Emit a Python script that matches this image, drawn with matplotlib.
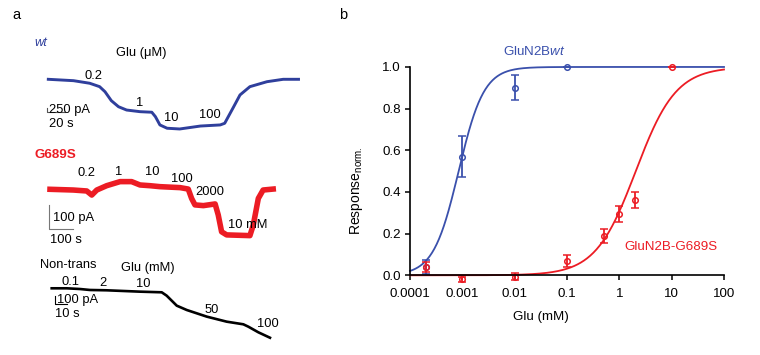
import numpy as np
import matplotlib
matplotlib.use("Agg")
import matplotlib.pyplot as plt

plt.rcParams["font.family"] = ["Liberation Sans", "DejaVu Sans"]
plt.rcParams["mathtext.fontset"] = "custom"
plt.rcParams["mathtext.rm"] = "Liberation Sans"
plt.rcParams["mathtext.it"] = "Liberation Sans:italic"

BLUE = "#2f3f9c"
BLUE_FIT = "#3a50ac"
RED = "#ec1c24"
W, H = 760, 355

# ---- panel a: current traces (time in s, current in pA) ----
wt_t = [0, 28, 46, 57, 63, 70, 78, 87, 102, 115, 119, 124, 132, 146, 169, 191,
        196, 206, 213, 224, 243, 261, 278]
wt_i = [0, -75, -215, -400, -675, -1160, -1490, -1670, -1760, -1790, -2030, -2480,
        -2660, -2700, -2540, -2480, -2390, -1490, -850, -400, -130, 0, 0]

mut_t = [0, 97, 153, 174, 195, 236, 292, 340, 375, 417, 458, 542, 576, 590, 604,
         639, 688, 701, 715, 736, 833, 847, 868, 888, 930]
mut_i = [0, -3, -7, -24, -3, 15, 32, 32, 18, 15, 11, 7, 1, -38, -65, -68, -61,
         -107, -177, -190, -193, -149, -38, -3, 1]

nt_t = [0, 12.5, 23.6, 31.9, 45.8, 73.6, 91.7, 95.8, 104.2, 112.5, 129.2, 145.8,
        159.7, 163.9, 172.2, 181.9]
nt_i = [0, 0, -9, -21, -25, -42, -50, -92, -217, -271, -354, -417, -450, -480,
        -550, -618]

# ---- panel b: dose-response ----
conc_wt = [0.0002, 0.001, 0.01, 0.1]
resp_wt = [0.04, 0.57, 0.90, 1.0]
err_wt = [0.033, 0.10, 0.06, 0.0]
conc_mut = [0.0002, 0.001, 0.01, 0.1, 0.5, 1, 2, 10]
resp_mut = [0.04, -0.02, -0.006, 0.07, 0.19, 0.294, 0.36, 1.0]
err_mut = [0.025, 0.01, 0.016, 0.028, 0.034, 0.04, 0.038, 0.0]
ec50_wt, nh_wt = 0.00085, 1.8
ec50_mut, nh_mut = 2.06, 1.13

fig = plt.figure(figsize=(W / 100, H / 100), dpi=100)


def trace_axes(box, origin, px_per_s, px_per_pA):
    x0, y0, x1, y1 = box
    ox, oy = origin
    ax = fig.add_axes([x0 / W, 1 - y1 / H, (x1 - x0) / W, (y1 - y0) / H])
    ax.set_xlim((x0 - ox) / px_per_s, (x1 - ox) / px_per_s)
    ax.set_ylim((oy - y1) / px_per_pA, (oy - y0) / px_per_pA)
    ax.axis("off")
    ax.patch.set_alpha(0)
    return ax


fs = 9.3
# wt trace
a1 = trace_axes((0, 30, 330, 140), (48.3, 79.3), 0.9, 0.0184)
a1.plot(wt_t, wt_i, color=BLUE, lw=2.1, solid_joinstyle="round", clip_on=False)
a1.plot([-1.1, -1.1, 18.9], [-1543, -1793, -1793], color="#555555", lw=0.8)
a1.text(-8.7, 1973, "wt", color=BLUE, style="italic", fontsize=fs, ha="center", va="center")
a1.text(103, 1429, "Glu (\u03bcM)", fontsize=fs, ha="center", va="center")
for s, t, i in [("0.2", 50, 179), ("1", 101, -1304), ("10", 137, -2120), ("100", 180, -1940)]:
    a1.text(t, i, s, fontsize=fs, ha="center", va="center")
a1.text(0.8, -1668, "250 pA", fontsize=fs, ha="left", va="center")
a1.text(0.8, -2435, "20 s", fontsize=fs, ha="left", va="center")

# G689S trace
a2 = trace_axes((0, 140, 330, 250), (50, 189.3), 0.24, 0.24)
a2.plot(mut_t, mut_i, color=RED, lw=4.0, solid_joinstyle="round", clip_on=False)
a2.plot([-3, -3, 97], [-67, -167, -167], color="#777777", lw=0.8)
a2.text(21, 143, "G689S", color=RED, weight="bold", fontsize=fs + 0.3, ha="center", va="center")
for s, t, i in [("0.2", 150, 68), ("1", 288, 72), ("10", 425, 72), ("100", 550, 43),
                ("2000", 667, -11), ("10 mM", 825, -149)]:
    a2.text(t, i, s, fontsize=fs, ha="center", va="center")
a2.text(12.5, -120, "100 pA", fontsize=fs, ha="left", va="center")
a2.text(0, -211, "100 s", fontsize=fs, ha="left", va="center")

# non-transfected trace
a3 = trace_axes((0, 250, 330, 355), (51.7, 288.3), 1.2, 0.08)
a3.plot(nt_t, nt_i, color="black", lw=1.9, solid_joinstyle="round", clip_on=False)
a3.plot([2.75, 2.75, 12.75], [-96, -196, -196], color="black", lw=0.8)
a3.text(13.6, 291, "Non-trans", fontsize=fs, ha="center", va="center")
a3.text(80, 254, "Glu (mM)", fontsize=fs, ha="center", va="center")
for s, t, i in [("0.1", 15.3, 79), ("2", 43, 62), ("10", 76, 50), ("50", 133, -271),
                ("100", 180, -450)]:
    a3.text(t, i, s, fontsize=fs, ha="center", va="center")
a3.text(4.1, -146, "100 pA", fontsize=fs, ha="left", va="center")
a3.text(2.8, -325, "10 s", fontsize=fs, ha="left", va="center")

fig.text(12 / W, 1 - 15 / H, "a", fontsize=10.5, ha="left", va="center")
fig.text(339 / W, 1 - 15 / H, "b", fontsize=10.5, ha="left", va="center")

# ---- panel b axes ----
ylo, yhi = -0.06, 1.02
ax = fig.add_axes([410 / W, 1 - 287.8 / H, 314 / W, 225 / H])
ax.set_xscale("log")
ax.set_xlim(1e-4, 100)
ax.set_ylim(ylo, yhi)
ax.patch.set_alpha(0)

xc = np.logspace(-4, 2, 400)
ax.plot(xc, 1 / (1 + (ec50_wt / xc) ** nh_wt), color=BLUE_FIT, lw=1.3, clip_on=False)
ax.plot(xc, 1 / (1 + (ec50_mut / xc) ** nh_mut), color=RED, lw=1.3, clip_on=False)

ax.errorbar(conc_wt, resp_wt, yerr=err_wt, fmt="o", ms=4, mfc="none", mec=BLUE_FIT,
            mew=1.1, ecolor=BLUE_FIT, elinewidth=1.3, capsize=3, capthick=1.3, clip_on=False)
ax.errorbar(conc_mut, resp_mut, yerr=err_mut, fmt="o", ms=4, mfc="none", mec=RED,
            mew=1.1, ecolor=RED, elinewidth=1.3, capsize=3, capthick=1.3, clip_on=False)

for sp in ["top", "right"]:
    ax.spines[sp].set_visible(False)
ax.spines["bottom"].set_position(("data", 0))
ax.spines["left"].set_bounds(0, 1)
ax.spines["left"].set_linewidth(1.2)
ax.spines["bottom"].set_linewidth(1.2)
ax.set_xticks([1e-4, 1e-3, 1e-2, 0.1, 1, 10, 100])
ax.set_xticklabels(["0.0001", "0.001", "0.01", "0.1", "1", "10", "100"])
ax.xaxis.set_minor_locator(matplotlib.ticker.NullLocator())
ax.set_yticks([0, 0.2, 0.4, 0.6, 0.8, 1.0])
ax.set_yticklabels(["0.0", "0.2", "0.4", "0.6", "0.8", "1.0"])
ax.tick_params(direction="out", length=3.5, width=1.1, labelsize=9.6)
ax.tick_params(axis="x", pad=5.5)
ax.tick_params(axis="y", pad=3)

ax.set_xlabel("Glu (mM)", fontsize=9.6)
ax.xaxis.set_label_coords(0.416, -0.105)
ax.set_ylabel("Response$_{\\mathrm{norm.}}$", fontsize=10)
ax.yaxis.set_label_coords(-0.143, 0.43)

ax.text(0.0061, 1.073, "GluN2B$\\mathit{wt}$", color=BLUE_FIT, fontsize=9.6,
        ha="left", va="center", clip_on=False)
ax.text(1.25, 0.134, "GluN2B-G689S", color=RED, fontsize=9.6, ha="left", va="center")

fig.savefig("out.png", dpi=100)
